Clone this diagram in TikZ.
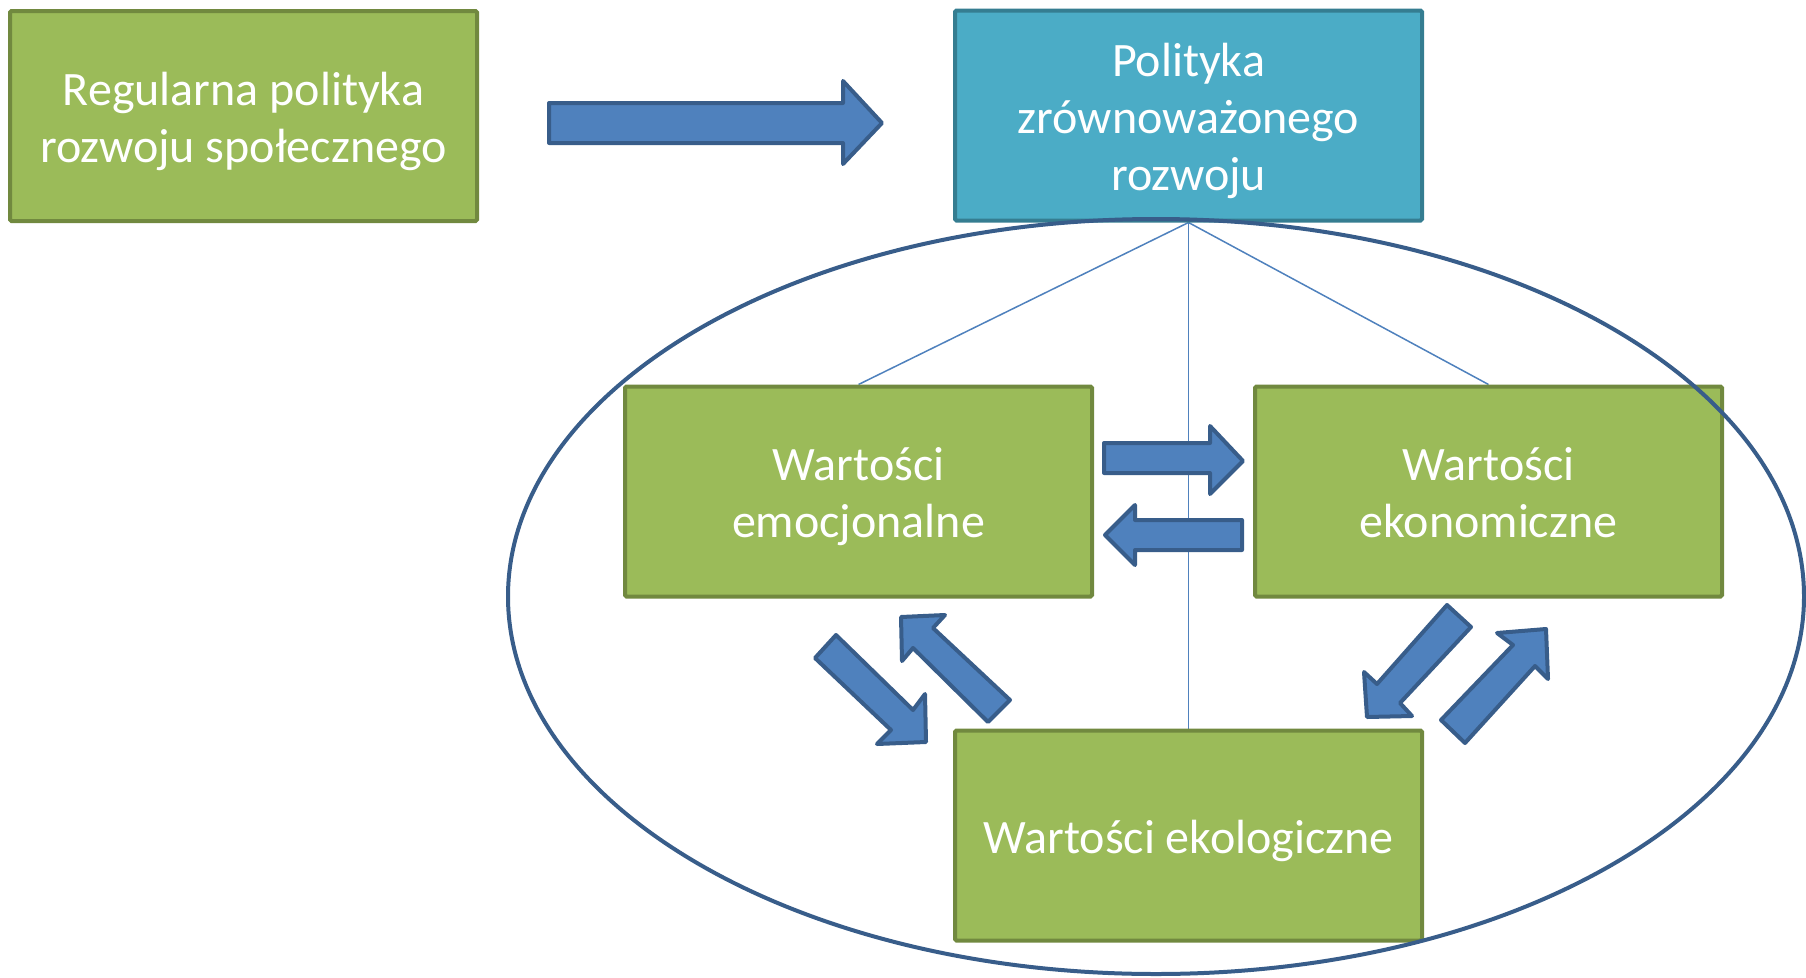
\documentclass[tikz,border=0pt]{standalone}
\usepackage{fontspec}
\setmainfont{Carlito}
\usetikzlibrary{backgrounds}
\definecolor{gfill}{HTML}{9BBB59}
\definecolor{gline}{HTML}{71893F}
\definecolor{bfill}{HTML}{4BACC6}
\definecolor{bline}{HTML}{357D91}
\definecolor{afill}{HTML}{4F81BD}
\definecolor{aline}{HTML}{385D8A}
\tikzset{
  gtext/.style={text=white, align=center, font=\fontsize{48}{57}\selectfont, yshift=-5pt, inner sep=0pt},
  gbox/.style={draw=gline, fill=gfill, line width=4pt, rounded corners=1.5pt,
    minimum width=467pt, minimum height=210pt, inner sep=0pt},
  bbox/.style={gbox, draw=bline, fill=bfill},
  conn/.style={draw=afill, line width=1.5pt},
  bigarrow/.style={draw=aline, fill=afill, line width=4pt, line join=round},
  ell/.style={draw=aline, line width=4pt}
}
\begin{document}
\begin{tikzpicture}[x=1pt,y=-1pt]
\useasboundingbox (0,0) rectangle (1806,977);
\node[gbox, label={[gtext]center:Regularna polityka\\rozwoju społecznego}] (reg) at (243.5,116) {};
\node[bbox, label={[gtext]center:Polityka\\zrównoważonego\\rozwoju}] (pol) at (1188.5,115.5) {};
\node[gbox, label={[gtext]center:Wartości\\emocjonalne}] (emo) at (858.5,491.5) {};
\node[gbox, label={[gtext]center:Wartości\\ekonomiczne\vphantom{g}}] (eko) at (1488.5,491.5) {};
\node[gbox, label={[gtext]center:Wartości ekologiczne}] (ekol) at (1188.5,835.5) {};
% connectors behind the boxes
\begin{scope}[on background layer]
\draw[conn] (pol.south) -- (emo.north);
\draw[conn] (pol.south) -- (eko.north);
\draw[conn] (pol.south) -- (ekol.north);
\end{scope}
% ellipse
\draw[ell] (1156,596.5) ellipse [x radius=648, y radius=377.5];
% big arrow
\draw[bigarrow] (549,103) -- (843,103) -- (843,81) -- (882,123) -- (843,164) -- (843,143) -- (549,143) -- cycle;
% horizontal small arrows
\draw[bigarrow] (1104,443) -- (1210,443) -- (1210,426) -- (1243,461) -- (1210,494) -- (1210,473) -- (1104,473) -- cycle;
\draw[bigarrow] (1242,520) -- (1135,520) -- (1135,505) -- (1105,535) -- (1135,565) -- (1135,550) -- (1242,550) -- cycle;
% diagonal arrows left
\draw[bigarrow] (815,658) -- (836,635) -- (913,710) -- (925,694) -- (926,742) -- (877,744) -- (891,730) -- cycle;
\draw[bigarrow] (988,722) -- (1010,700) -- (933,628) -- (945,615) -- (901,617) -- (902,661) -- (913,648) -- cycle;
% diagonal arrows right
\draw[bigarrow] (1447,605) -- (1471,627) -- (1400,703) -- (1412,716) -- (1367,717) -- (1364,672) -- (1377,684) -- cycle;
\draw[bigarrow] (1441,720) -- (1465,743) -- (1535,666) -- (1548,679) -- (1546,629) -- (1497,633) -- (1513,645) -- cycle;
\end{tikzpicture}
\end{document}
